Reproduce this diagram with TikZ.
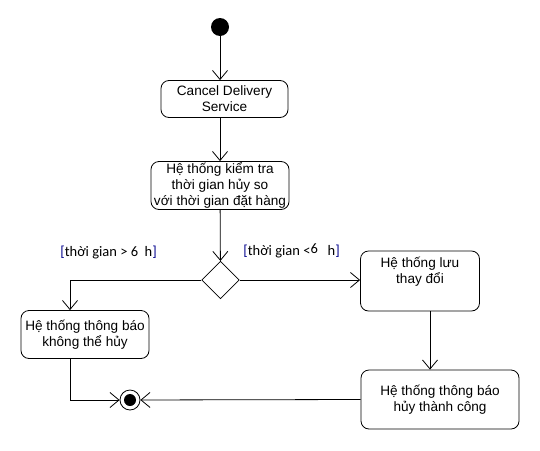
\documentclass[tikz,border=0pt]{standalone}
\usepackage{fontspec}
\setmainfont{Liberation Sans}
\newfontfamily\guardfont{Carlito}
\usetikzlibrary{arrows.meta,shapes.geometric}
\tikzset{
  act/.style={draw,rounded corners=8pt,align=center,inner sep=1pt,
    font=\fontsize{13.6}{16}\selectfont},
  flow/.style={-{Straight Barb[length=9pt,width=15pt]}},
  guard/.style={anchor=west,inner sep=0pt,font=\guardfont\fontsize{14.5}{16}\selectfont}
}
\newcommand{\brk}[1]{\textcolor{blue!55!black}{#1}}
\begin{document}
\begin{tikzpicture}[x=1pt,y=-1pt,line width=0.8pt]
    \useasboundingbox (0,0) rectangle (540,450);

    \node[circle,fill,inner sep=0pt,minimum size=18pt] (start) at (220,27) {};
    \node[act,minimum width=127pt,minimum height=37pt] (cancel) at (224.5,99)
      {Cancel Delivery\\Service};
    \node[act,minimum width=138pt,minimum height=48pt] (check) at (220,185.5)
      {Hệ thống kiểm tra\\thời gian hủy so\\với thời gian đặt hàng};
    \node[diamond,draw,inner sep=0pt,minimum size=37.5pt] (dec) at (220.5,280) {};
    \node[act,minimum width=128pt,minimum height=48pt] (fail) at (85,334.5)
      {Hệ thống thông báo\\không thể hủy};
    \node[act,minimum width=119pt,minimum height=60pt] (save) at (420,281)
      {Hệ thống lưu\\thay đổi\\\strut};
    \node[act,minimum width=158pt,minimum height=59pt] (done) at (440,399.5)
      {Hệ thống thông báo\\hủy thành công};
    \node[circle,draw,inner sep=0pt,minimum size=20pt] (end) at (130,400) {};
    \fill (end) circle (6pt);

    \draw[flow] (start) -- (start |- cancel.north);
    \draw[flow] (cancel.south -| check.north) -- (check.north);
    \draw[flow] (check) -- (dec);
    \draw[flow] (dec.west) -| ([xshift=-15pt]fail.north);
    \draw[flow] (dec.east) -- (save.west |- dec);
    \draw[flow] ([xshift=10pt]save.south) -- ([xshift=10pt]save.south |- done.north);
    \draw[flow] ([xshift=-15pt]fail.south) |- (end);
    \draw[flow] (done.west) -- (end);

    \node[guard] (gt) at (60,253) {\brk{[}thời gian > 6\ \ h\brk{]}};
    \node[guard] (lt) at (243,251) {\brk{[}thời gian <\raisebox{2pt}{6}\ \ \ h\brk{]}};
\end{tikzpicture}
\end{document}
